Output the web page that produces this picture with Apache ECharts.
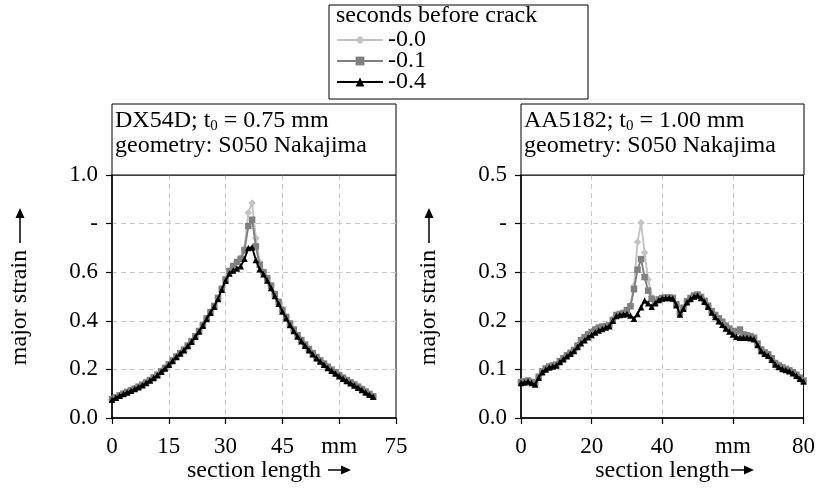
<!DOCTYPE html>
<html><head><meta charset="utf-8">
<script src="https://cdn.jsdelivr.net/npm/echarts@6/dist/echarts.min.js"></script>
<style>html,body{margin:0;padding:0;background:#fff}#c{width:818px;height:489px}</style>
</head><body><div id="c"></div>
<script>
// ---- data ----
const seriesNames = ['-0.0', '-0.1', '-0.4'];
const leftX = [0,1,2,3,4,5,6,7,8,9,10,11,12,13,14,15,16,17,18,19,20,21,22,23,24,25,26,27,28,29,30,31,32,33,34,35,36,37,38,39,40,41,42,43,44,45,46,47,48,49,50,51,52,53,54,55,56,57,58,59,60,61,62,63,64,65,66,67,68,69];
const leftS04 = [0.075,0.083,0.092,0.099,0.105,0.112,0.119,0.127,0.135,0.144,
  0.154,0.165,0.176,0.190,0.204,0.219,0.235,0.251,0.265,0.279,
  0.296,0.314,0.334,0.356,0.380,0.407,0.433,0.458,0.490,0.528,
  0.565,0.595,0.607,0.615,0.624,0.655,0.700,0.703,0.650,0.612,
  0.592,0.566,0.535,0.502,0.470,0.438,0.410,0.383,0.358,0.335,
  0.316,0.297,0.279,0.262,0.246,0.232,0.219,0.206,0.194,0.183,
  0.172,0.162,0.152,0.143,0.134,0.125,0.115,0.105,0.096,0.087];
const leftS01 = [0.077,0.085,0.093,0.100,0.107,0.114,0.121,0.129,0.137,0.146,
  0.156,0.167,0.178,0.192,0.206,0.221,0.237,0.253,0.267,0.281,
  0.298,0.316,0.336,0.358,0.383,0.410,0.436,0.461,0.494,0.532,
  0.570,0.605,0.625,0.642,0.655,0.690,0.790,0.816,0.706,0.630,
  0.600,0.575,0.545,0.510,0.478,0.445,0.416,0.389,0.364,0.341,
  0.321,0.302,0.284,0.267,0.251,0.237,0.224,0.211,0.199,0.188,
  0.177,0.166,0.156,0.147,0.138,0.129,0.119,0.109,0.099,0.089];
const leftS00 = [0.077,0.085,0.093,0.100,0.107,0.114,0.121,0.129,0.137,0.146,
  0.156,0.167,0.178,0.192,0.206,0.221,0.237,0.253,0.267,0.281,
  0.298,0.316,0.336,0.358,0.383,0.410,0.436,0.461,0.494,0.532,
  0.570,0.605,0.625,0.642,0.660,0.700,0.845,0.885,0.740,0.640,
  0.602,0.576,0.545,0.510,0.478,0.445,0.416,0.389,0.364,0.341,
  0.321,0.302,0.284,0.267,0.251,0.237,0.224,0.211,0.199,0.188,
  0.177,0.166,0.156,0.147,0.138,0.129,0.119,0.109,0.099,0.089];

const rightX = [0,1,2,3,4,5,6,7,8,9,10,11,12,13,14,15,16,17,18,19,20,21,22,23,24,25,26,27,28,29,30,31,32,33,34,35,36,37,38,39,40,41,42,43,44,45,46,47,48,49,50,51,52,53,54,55,56,57,58,59,60,61,62,63,64,65,66,67,68,69,70,71,72,73,74,75,76,77,78,79,80];
const rightS04 = [0.072,0.073,0.075,0.072,0.069,0.083,0.094,0.100,0.104,0.106,
  0.108,0.115,0.121,0.127,0.132,0.138,0.146,0.154,0.160,0.166,
  0.171,0.176,0.180,0.183,0.186,0.189,0.200,0.210,0.212,0.213,
  0.214,0.211,0.204,0.214,0.228,0.242,0.236,0.229,0.236,0.243,
  0.246,0.247,0.247,0.246,0.232,0.213,0.225,0.238,0.245,0.250,
  0.252,0.247,0.239,0.229,0.217,0.208,0.199,0.192,0.184,0.178,
  0.172,0.167,0.165,0.165,0.165,0.164,0.162,0.150,0.138,0.132,
  0.128,0.120,0.110,0.105,0.101,0.099,0.096,0.092,0.087,0.081,
  0.075];
const rightS01 = [0.074,0.075,0.077,0.074,0.072,0.085,0.096,0.102,0.106,0.108,
  0.110,0.117,0.123,0.129,0.134,0.140,0.149,0.160,0.166,0.172,
  0.177,0.182,0.186,0.188,0.189,0.191,0.202,0.212,0.214,0.216,
  0.222,0.230,0.265,0.305,0.327,0.290,0.262,0.245,0.238,0.244,
  0.247,0.248,0.248,0.247,0.234,0.216,0.227,0.240,0.247,0.252,
  0.254,0.249,0.241,0.231,0.220,0.212,0.205,0.198,0.190,0.184,
  0.179,0.178,0.182,0.172,0.170,0.168,0.165,0.153,0.141,0.135,
  0.131,0.123,0.113,0.108,0.104,0.101,0.098,0.094,0.089,0.083,
  0.077];
const rightS00 = [0.074,0.075,0.077,0.074,0.072,0.085,0.096,0.102,0.106,0.108,
  0.110,0.117,0.123,0.129,0.134,0.140,0.149,0.160,0.166,0.172,
  0.177,0.182,0.186,0.188,0.189,0.191,0.202,0.212,0.214,0.216,
  0.222,0.232,0.272,0.362,0.402,0.340,0.285,0.250,0.240,0.244,
  0.247,0.248,0.248,0.247,0.234,0.216,0.227,0.240,0.247,0.252,
  0.254,0.249,0.241,0.231,0.220,0.212,0.205,0.198,0.190,0.184,
  0.179,0.178,0.182,0.172,0.170,0.168,0.165,0.153,0.141,0.135,
  0.131,0.123,0.113,0.108,0.104,0.101,0.098,0.094,0.089,0.083,
  0.077];

const leftXLabels = ['0','15','30','45','mm','75'];
const rightXLabels = ['0','20','40','mm','80'];
const leftYLabels = ['0.0','0.2','0.4','0.6','-','1.0'];
const rightYLabels = ['0.0','0.1','0.2','0.3','-','0.5'];

// ---- chart ----
const F = 'Liberation Serif';
const colors = ['#c3c3c3', '#808080', '#000000'];
const symbols = ['diamond', 'rect', 'triangle'];

function pairs(xs, ys) { return xs.map((x, i) => [x, ys[i]]); }

const gridLine = {show: true, showMinLine: false, showMaxLine: false, lineStyle: {color: '#c8c8c8', type: [5, 4], width: 1}};

function mkX(grid, min, max, interval, labels) {
  return {
    gridIndex: grid, type: 'value', min, max, interval,
    axisLine: {lineStyle: {color: '#000', width: 1.5}},
    axisTick: {show: true, inside: false, length: 6, lineStyle: {color: '#000', width: 1.2}},
    axisLabel: {color: '#000', fontFamily: F, fontSize: 23, margin: 17,
      formatter: (v, i) => labels[Math.round((v - min) / interval)]},
    splitLine: gridLine,
    name: 'section length', nameLocation: 'middle', nameGap: 41,
    nameTextStyle: {color: '#000', fontFamily: F, fontSize: 24}
  };
}
function mkY(grid, min, max, interval, labels) {
  return {
    gridIndex: grid, type: 'value', min, max, interval,
    axisLine: {show: true, lineStyle: {color: '#000', width: 1.5}},
    axisTick: {show: true, inside: false, length: 6, lineStyle: {color: '#000', width: 1.2}},
    axisLabel: {color: '#000', fontFamily: F, fontSize: 23, margin: 14,
      formatter: (v) => labels[Math.round((v - min) / interval)]},
    splitLine: gridLine,
    name: 'major strain', nameLocation: 'middle', nameGap: 80,
    nameTextStyle: {color: '#000', fontFamily: F, fontSize: 24, padding: [0, 22, 0, 0]}
  };
}

const series = [];
[[leftS00, leftS01, leftS04, leftX, 0], [rightS00, rightS01, rightS04, rightX, 1]].forEach(set => {
  for (let k = 0; k < 3; k++) {
    series.push({
      name: seriesNames[k], type: 'line', xAxisIndex: set[4], yAxisIndex: set[4],
      data: pairs(set[3], set[k]), symbol: symbols[k], symbolSize: k === 0 ? 7.5 : 6.5,
      showSymbol: true, animation: false,
      lineStyle: {color: colors[k], width: 1.9},
      itemStyle: {color: colors[k]}, z: 2 + k
    });
  }
});

function arrow(x1, y1, x2, y2) {
  const dx = x2 - x1, dy = y2 - y1, L = Math.hypot(dx, dy), ux = dx / L, uy = dy / L;
  const hl = 10, hw = 4.5;
  const bx = x2 - ux * hl, by = y2 - uy * hl;
  return [
    {type: 'line', shape: {x1, y1, x2: bx, y2: by}, style: {stroke: '#000', lineWidth: 1.5}},
    {type: 'polygon', shape: {points: [[x2, y2], [bx - uy * hw, by + ux * hw], [bx + uy * hw, by - ux * hw]]}, style: {fill: '#000'}}
  ];
}
function infoBox(x, y, w, h, mat, thick) {
  return [
    {type: 'rect', shape: {x, y, width: w, height: h}, style: {fill: '#fff', stroke: '#000', lineWidth: 1}, z: 10},
    {type: 'text', x: x + 3, y: y + 17, z: 11, style: {
      text: '{a|' + mat + '; t}{b|0}{a| = ' + thick + '}', verticalAlign: 'middle',
      rich: {a: {fontFamily: F, fontSize: 24, fill: '#000'}, b: {fontFamily: F, fontSize: 15, fill: '#000', padding: [11, 0, 0, 0]}}}},
    {type: 'text', x: x + 3, y: y + 42, z: 11, style: {
      text: 'geometry: S050 Nakajima', fontFamily: F, fontSize: 24, fill: '#000', verticalAlign: 'middle'}}
  ];
}

const graphic = [].concat(
  [{type: 'rect', shape: {x: 329, y: 5, width: 259, height: 94}, style: {fill: '#fff', stroke: '#000', lineWidth: 1}, z: 0},
   {type: 'text', x: 336, y: 16, z: 5, style: {text: 'seconds before crack', fontFamily: F, fontSize: 24, fill: '#000', verticalAlign: 'middle'}}],
  infoBox(112, 104, 284, 71, 'DX54D', '0.75 mm'),
  infoBox(521, 104, 283, 71, 'AA5182', '1.00 mm'),
  arrow(20, 243, 20, 208),
  arrow(429, 243, 429, 208),
  arrow(328, 470, 351, 470),
  arrow(731, 470, 754, 470)
);

const option = {
  backgroundColor: '#fff',
  animation: false,
  grid: [
    {left: 112, top: 175, width: 284, height: 243, show: true, borderColor: '#000', borderWidth: 1, backgroundColor: 'transparent'},
    {left: 521, top: 175, width: 283, height: 243, show: true, borderColor: '#000', borderWidth: 1, backgroundColor: 'transparent'}
  ],
  xAxis: [mkX(0, 0, 75, 15, leftXLabels), mkX(1, 0, 80, 20, rightXLabels)],
  yAxis: [mkY(0, 0, 1.0, 0.2, leftYLabels), mkY(1, 0, 0.5, 0.1, rightYLabels)],
  legend: {
    data: seriesNames, orient: 'vertical', left: 336, top: 28, padding: 0,
    itemWidth: 46, itemHeight: 11, itemGap: -3,
    textStyle: {fontFamily: F, fontSize: 24, color: '#000'}
  },
  graphic: graphic,
  series: series
};
const chart = echarts.init(document.getElementById('c'), null, {renderer: 'canvas'});
chart.setOption(option);
</script></body></html>
